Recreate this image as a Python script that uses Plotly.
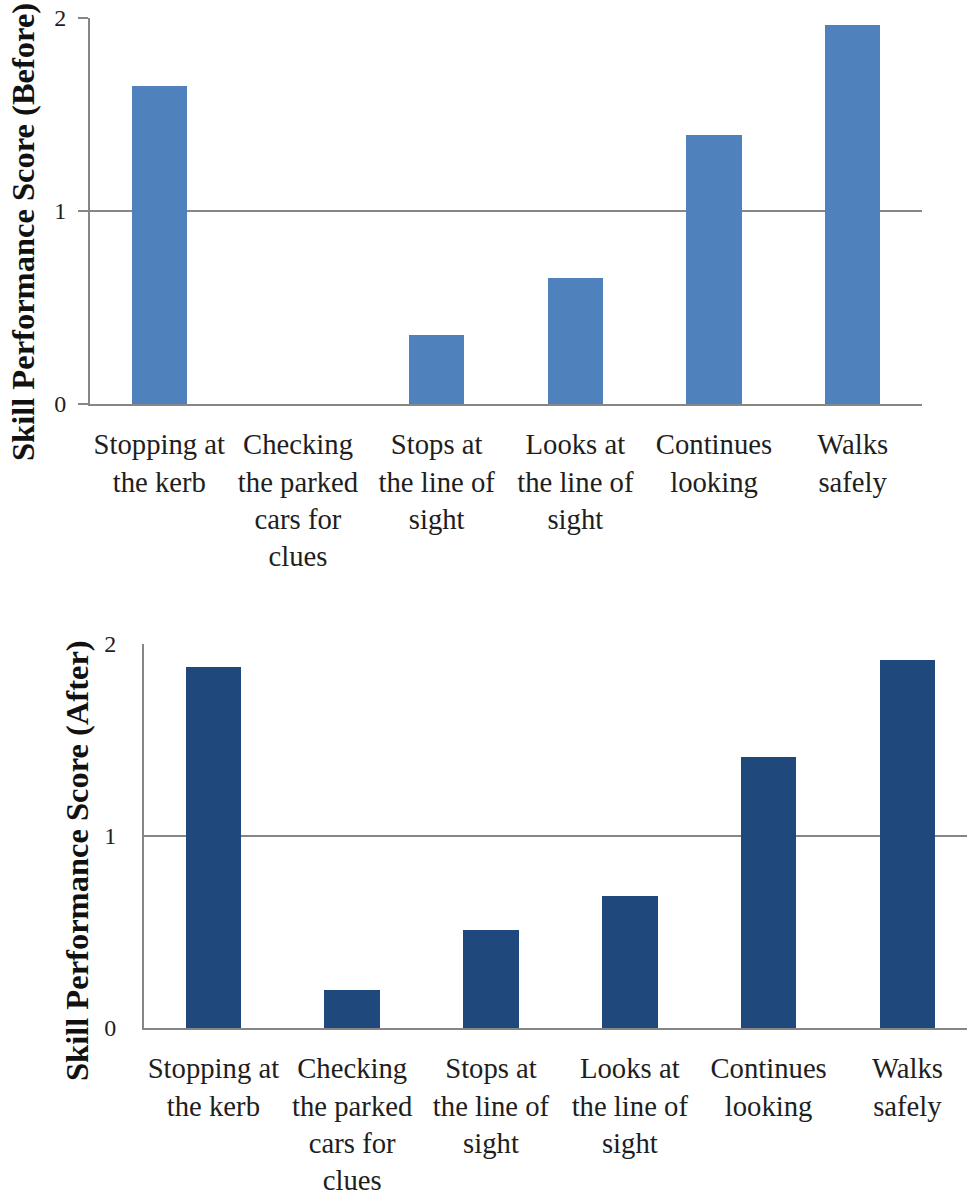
import plotly.graph_objects as go

# Skill categories (line breaks as they appear under each bar)
categories = [
    "Stopping at<br>the kerb",
    "Checking<br>the parked<br>cars for<br>clues",
    "Stops at<br>the line of<br>sight",
    "Looks at<br>the line of<br>sight",
    "Continues<br>looking",
    "Walks<br>safely",
]
scores_before = [1.65, 0.0, 0.36, 0.655, 1.395, 1.965]
scores_after = [1.88, 0.20, 0.51, 0.685, 1.41, 1.915]
y_ticks = [0, 1, 2]

W, H = 967, 1196
GRID = "#868686"
FONT = "Liberation Serif, Times New Roman, serif"

positions = list(range(len(categories)))


def px_x(p):
    return p / W


def px_y(p):
    return 1 - p / H


fig = go.Figure()
fig.add_trace(go.Bar(
    x=positions, y=scores_before, width=0.4,
    marker=dict(color="#4F81BD", line=dict(width=0)),
    xaxis="x", yaxis="y", showlegend=False,
))
fig.add_trace(go.Bar(
    x=positions, y=scores_after, width=0.4,
    marker=dict(color="#1F497D", line=dict(width=0)),
    xaxis="x2", yaxis="y2", showlegend=False,
))

xcommon = dict(
    tickmode="array", tickvals=positions, ticktext=categories,
    tickangle=0, ticks="", showgrid=False, zeroline=False,
    showline=True, linecolor=GRID, linewidth=2,
    tickfont=dict(family=FONT, size=28.7, color="#1e1e1e"),
    fixedrange=True, automargin=False,
)
ycommon = dict(
    range=[0, 2], tickmode="array", tickvals=y_ticks,
    showgrid=True, gridcolor=GRID, gridwidth=2, zeroline=False,
    showline=True, linecolor=GRID, linewidth=2,
    tickfont=dict(family=FONT, size=24, color="#1e1e1e"),
    fixedrange=True, automargin=False,
)

fig.update_layout(
    width=W, height=H,
    margin=dict(l=0, r=0, t=0, b=0, pad=0, autoexpand=False),
    paper_bgcolor="white", plot_bgcolor="white",
    bargap=0,
    xaxis=dict(xcommon, domain=[px_x(90), px_x(922)], range=[-0.5, 5.5],
               anchor="y", ticklabelstandoff=14),
    yaxis=dict(ycommon, domain=[px_y(404), px_y(18)], anchor="x",
               ticks="outside", ticklen=10, tickwidth=2, tickcolor=GRID,
               ticklabelstandoff=7),
    xaxis2=dict(xcommon, domain=[px_x(144), 1.0],
                range=[-0.5, -0.5 + (967 - 144) / 138.8],
                anchor="y2", ticklabelstandoff=14),
    yaxis2=dict(ycommon, domain=[px_y(1028), px_y(644)], anchor="x2",
                ticks="", ticklabelstandoff=21),
    annotations=[
        dict(text="<b>Skill Performance Score (Before)</b>", textangle=-90,
             xref="paper", yref="paper", x=px_x(23), y=px_y(232),
             xanchor="center", yanchor="middle", showarrow=False,
             font=dict(family=FONT, size=32.5, color="#111")),
        dict(text="<b>Skill Performance Score (After)</b>", textangle=-90,
             xref="paper", yref="paper", x=px_x(77), y=px_y(861),
             xanchor="center", yanchor="middle", showarrow=False,
             font=dict(family=FONT, size=32.5, color="#111")),
    ],
)

fig.write_html("out.html")
